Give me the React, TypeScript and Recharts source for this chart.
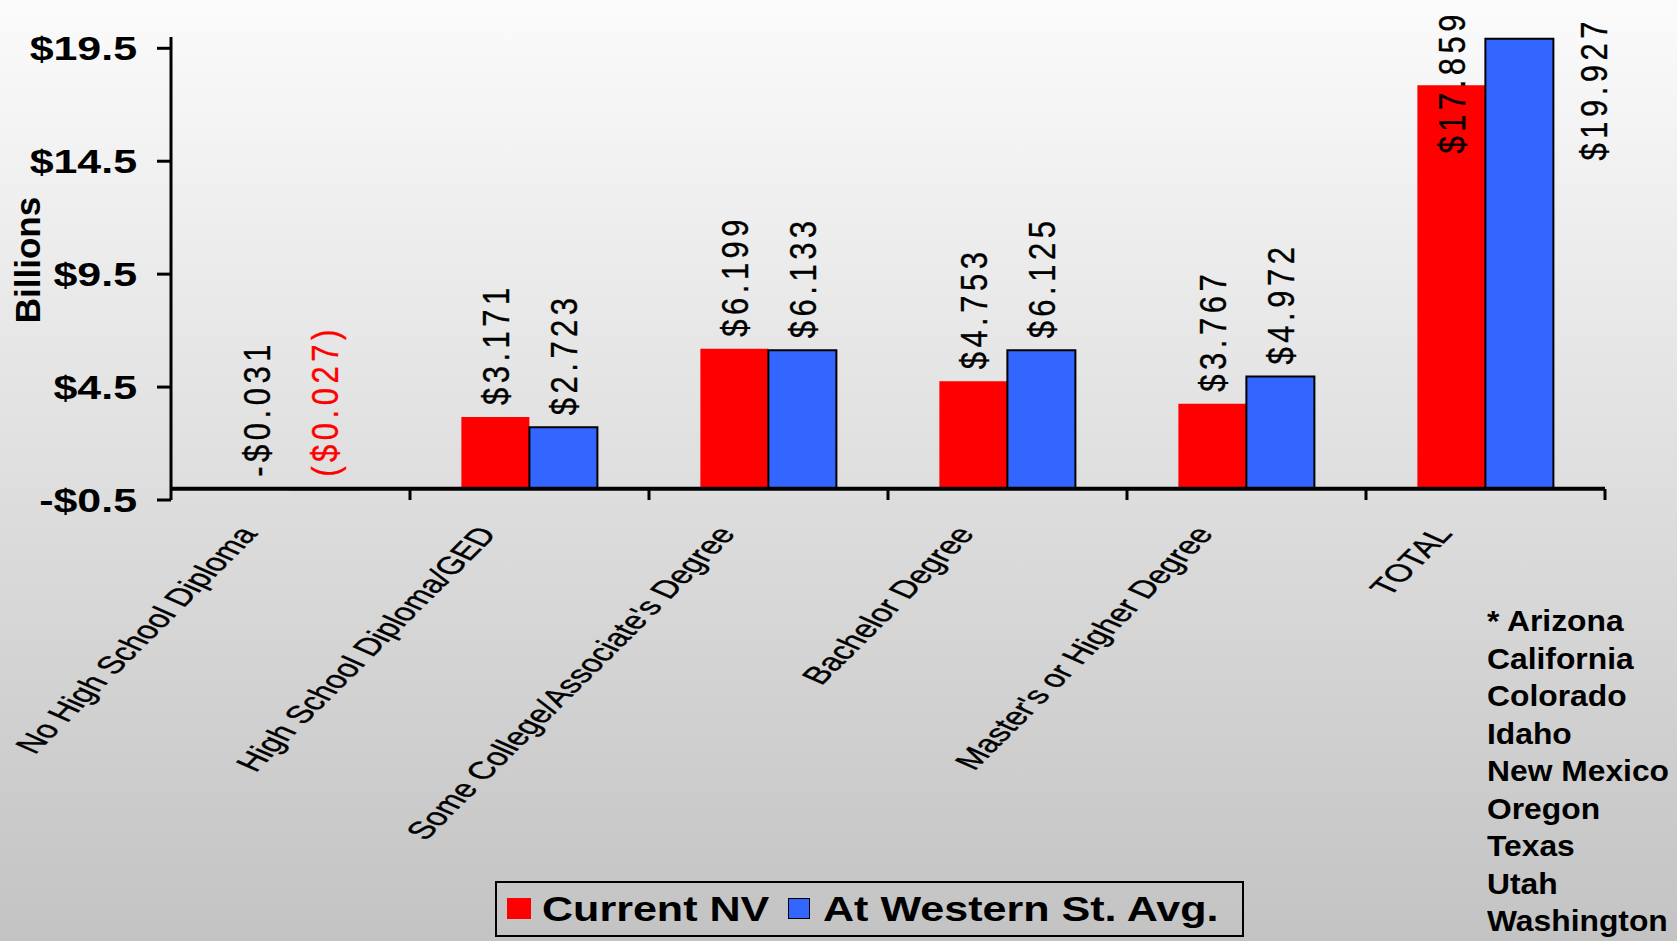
import React from "react";
import { Bar, BarChart, LabelList, ReferenceLine, XAxis, YAxis } from "recharts";

const categories = [
  "No High School Diploma",
  "High School Diploma/GED",
  "Some College/Associate's Degree",
  "Bachelor Degree",
  "Master's or Higher Degree",
  "TOTAL",
];
const currentNV = [-0.031, 3.171, 6.199, 4.753, 3.767, 17.859];
const westernAvg = [-0.027, 2.723, 6.133, 6.125, 4.972, 19.927];
const yTicks = [-0.5, 4.5, 9.5, 14.5, 19.5];
const seriesNames = ["Current NV", "At Western St. Avg."];
const westernStates = ["* Arizona", "California", "Colorado", "Idaho", "New Mexico", "Oregon", "Texas", "Utah", "Washington"];

const W = 1677;
const H = 941;
const MARGIN = { top: 37, right: 72, bottom: 0, left: 0 };
const Y_AXIS_W = 171;
const X_AXIS_H = 441;
const BAND = (W - MARGIN.left - MARGIN.right - Y_AXIS_W) / categories.length;
const FONT = '"Liberation Sans", Arial, sans-serif';
const RED = "#ff0000";
const BLUE = "#3366ff";

const data = categories.map((name, i) => ({ name, nv: currentNV[i], west: westernAvg[i] }));

function YTick({ x, y, payload }: any) {
  const v = payload.value as number;
  const s = v < 0 ? `-$${Math.abs(v)}` : `$${v}`;
  return (
    <text
      transform={`translate(${x},${y}) scale(1.3,1)`}
      textAnchor="end"
      dy="0.36em"
      fontSize={33}
      fontWeight="bold"
      fontFamily={FONT}
      fill="#000"
    >
      {s}
    </text>
  );
}

function XTick({ x, y, payload }: any) {
  const bx = x + BAND / 2;
  return (
    <g>
      <line x1={bx} y1={y - 11} x2={bx} y2={y} stroke="#000" strokeWidth={3} />
      <text
        transform={`translate(${x - 32},${y + 34}) scale(1.5,1) rotate(-56)`}
        textAnchor="end"
        fontSize={24.5}
        fontFamily={FONT}
        fill="#000"
        stroke="#000"
        strokeWidth={0.35}
      >
        {payload.value}
      </text>
    </g>
  );
}

// rotated value labels; when there is no room above the bar they get pushed down (like the original)
function makeLabel(series: number) {
  return (props: any) => {
    const { x, y, width, height, value } = props;
    const v = Number(value);
    const top = Math.min(y, y + height);
    const abs = Math.abs(v).toFixed(3);
    let text = `$${abs}`;
    let fill = "#000";
    if (v < 0) {
      if (series === 0) text = `-$${abs}`;
      else {
        text = `($${abs})`;
        fill = RED;
      }
    }
    const fs = 31;
    const len = text.length * 21.5;
    let cx = x + width / 2;
    let ay = top - 12;
    let anchor: "start" | "end" = "start";
    if (ay - len < 8) {
      anchor = "end";
      ay = series === 0 ? 10 : 17;
      if (series === 1) cx = x + width + 40;
    }
    return (
      <text
        transform={`translate(${cx + fs * 0.43},${ay}) scale(1.2,1) rotate(-90)`}
        textAnchor={anchor}
        fontSize={fs}
        letterSpacing={4.5}
        fontFamily={FONT}
        fill={fill}
        stroke={fill}
        strokeWidth={0.3}
      >
        {text}
      </text>
    );
  };
}

export default function App() {
  return (
    <div
      style={{
        position: "absolute",
        left: 0,
        top: 0,
        width: W,
        height: H,
        overflow: "hidden",
        background: "linear-gradient(#fbfbfb, #c3c3c3)",
        fontFamily: FONT,
      }}
    >
      <BarChart width={W} height={H} data={data} margin={MARGIN} barCategoryGap="21.5%" barGap={0}>
        <XAxis
          dataKey="name"
          height={X_AXIS_H}
          interval={0}
          axisLine={false}
          tickLine={false}
          tickSize={0}
          tickMargin={0}
          tick={<XTick />}
        />
        <YAxis
          type="number"
          width={Y_AXIS_W}
          domain={[-0.5, 20]}
          ticks={yTicks}
          allowDataOverflow
          axisLine={{ stroke: "#000", strokeWidth: 3 }}
          tickLine={{ stroke: "#000", strokeWidth: 3 }}
          tickSize={14}
          tickMargin={20}
          tick={<YTick />}
          label={{
            value: "Billions",
            content: () => (
              <text
                transform="translate(40,260) rotate(-90)"
                textAnchor="middle"
                fontSize={35}
                fontWeight="bold"
                fontFamily={FONT}
                fill="#000"
              >
                Billions
              </text>
            ),
          }}
        />
        <Bar dataKey="nv" name={seriesNames[0]} fill={RED} isAnimationActive={false}>
          <LabelList dataKey="nv" content={makeLabel(0)} />
        </Bar>
        <Bar dataKey="west" name={seriesNames[1]} fill={BLUE} stroke="#000" strokeWidth={2} isAnimationActive={false}>
          <LabelList dataKey="west" content={makeLabel(1)} />
        </Bar>
        <ReferenceLine y={0} stroke="#000" strokeWidth={4} />
      </BarChart>

      <div
        style={{
          position: "absolute",
          left: 495,
          top: 881,
          width: 749,
          height: 56,
          border: "2px solid #000",
          boxSizing: "border-box",
        }}
      >
        <div style={{ position: "absolute", left: 10, top: 15, width: 24, height: 21, background: RED }} />
        <span
          style={{
            position: "absolute",
            left: 45,
            top: 8,
            fontSize: 35,
            lineHeight: "35px",
            fontWeight: "bold",
            whiteSpace: "nowrap",
            transform: "scaleX(1.23)",
            transformOrigin: "left center",
          }}
        >
          {seriesNames[0]}
        </span>
        <div
          style={{
            position: "absolute",
            left: 291,
            top: 15,
            width: 22,
            height: 21,
            background: BLUE,
            border: "1.5px solid #000",
            boxSizing: "border-box",
          }}
        />
        <span
          style={{
            position: "absolute",
            left: 326,
            top: 8,
            fontSize: 35,
            lineHeight: "35px",
            fontWeight: "bold",
            whiteSpace: "nowrap",
            transform: "scaleX(1.23)",
            transformOrigin: "left center",
          }}
        >
          {seriesNames[1]}
        </span>
      </div>

      <div style={{ position: "absolute", left: 1487, top: 602 }}>
        {westernStates.map((s) => (
          <div
            key={s}
            style={{
              fontSize: 30,
              lineHeight: "37.5px",
              fontWeight: "bold",
              whiteSpace: "nowrap",
              transform: "scaleX(1.06)",
              transformOrigin: "left center",
            }}
          >
            {s}
          </div>
        ))}
      </div>
    </div>
  );
}
